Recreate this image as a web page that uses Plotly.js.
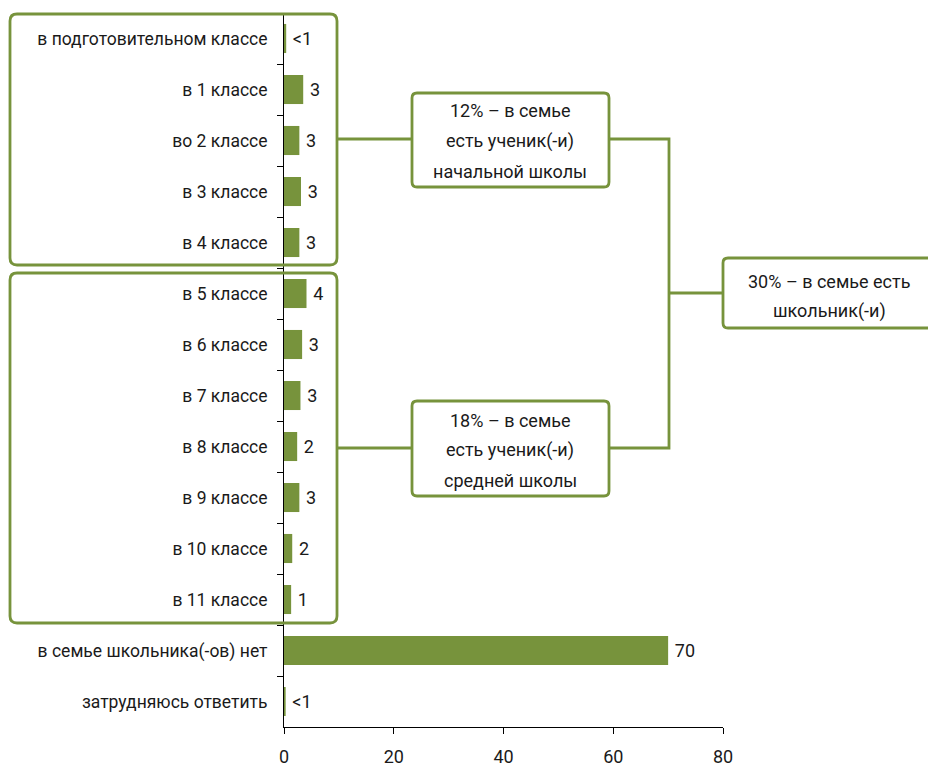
<!DOCTYPE html>
<html>
<head>
<meta charset="utf-8">
<script src="https://cdn.plot.ly/plotly-3.0.1.min.js"></script>
<style>html,body{margin:0;padding:0;background:#fff;}#chart{width:928px;height:769px;}</style>
</head>
<body>
<div id="chart"></div>
<script>
const categories = [
  'в подготовительном классе', 'в 1 классе', 'во 2 классе', 'в 3 классе', 'в 4 классе',
  'в 5 классе', 'в 6 классе', 'в 7 классе', 'в 8 классе', 'в 9 классе',
  'в 10 классе', 'в 11 классе', 'в семье школьника(-ов) нет', 'затрудняюсь ответить'
];
const values = [0.4, 3.5, 2.8, 3.1, 2.8, 4.1, 3.3, 3.0, 2.4, 2.8, 1.5, 1.3, 70, 0.3];
const valueLabels = ['<1', '3', '3', '3', '3', '4', '3', '3', '2', '3', '2', '1', '70', '<1'];
const xTicks = [0, 20, 40, 60, 80];
const calloutPrimary = ['12% – в семье', 'есть ученик(-и)', 'начальной школы'];
const calloutSecondary = ['18% – в семье', 'есть ученик(-и)', 'средней школы'];
const calloutTotal = ['30% – в семье есть', 'школьник(-и)'];

const W = 928, H = 769;
const M = {l: 284, r: 205, t: 13, b: 42};
const PW = W - M.l - M.r, PH = H - M.t - M.b;
const green = '#77933C';
const FONT = 'Roboto, "Open Sans", sans-serif';

function px(x) { return (x - M.l) / PW; }
function py(y) { return (H - M.b - y) / PH; }
function roundRect(x0, y0, x1, y1, r) {
  const P = (x, y) => px(x).toFixed(5) + ',' + py(y).toFixed(5);
  return 'M' + P(x0 + r, y0) + ' L' + P(x1 - r, y0) + ' Q' + P(x1, y0) + ' ' + P(x1, y0 + r) +
    ' L' + P(x1, y1 - r) + ' Q' + P(x1, y1) + ' ' + P(x1 - r, y1) +
    ' L' + P(x0 + r, y1) + ' Q' + P(x0, y1) + ' ' + P(x0, y1 - r) +
    ' L' + P(x0, y0 + r) + ' Q' + P(x0, y0) + ' ' + P(x0 + r, y0) + ' Z';
}
function linePath(pts) {
  return pts.map((p, i) => (i ? 'L' : 'M') + px(p[0]).toFixed(5) + ',' + py(p[1]).toFixed(5)).join(' ');
}
const boxLine = {color: green, width: 2.8};
const shapes = [
  {type: 'path', xref: 'paper', yref: 'paper', path: roundRect(10, 14, 337, 265, 7), line: boxLine},
  {type: 'path', xref: 'paper', yref: 'paper', path: roundRect(10, 273, 337, 623, 7), line: boxLine},
  {type: 'path', xref: 'paper', yref: 'paper', path: roundRect(412, 93, 609, 187, 5), line: boxLine, fillcolor: 'white'},
  {type: 'path', xref: 'paper', yref: 'paper', path: roundRect(412, 401, 609, 496, 5), line: boxLine, fillcolor: 'white'},
  {type: 'path', xref: 'paper', yref: 'paper', path: roundRect(723, 258, 940, 328, 5), line: boxLine, fillcolor: 'white'},
  {type: 'path', xref: 'paper', yref: 'paper', path: linePath([[337, 139], [412, 139]]), line: boxLine},
  {type: 'path', xref: 'paper', yref: 'paper', path: linePath([[337, 448], [412, 448]]), line: boxLine},
  {type: 'path', xref: 'paper', yref: 'paper', path: linePath([[609, 139], [669, 139], [669, 448], [609, 448]]), line: boxLine},
  {type: 'path', xref: 'paper', yref: 'paper', path: linePath([[669, 293], [723, 293]]), line: boxLine}
];

const annotations = [];
function addLines(lines, cx, ys) {
  lines.forEach((t, i) => annotations.push({
    xref: 'paper', yref: 'paper', x: px(cx), y: py(ys[i]), text: t, showarrow: false,
    xanchor: 'center', yanchor: 'middle', font: {family: FONT, size: 18, color: '#1a1a1a'}
  }));
}
addLines(calloutPrimary, 510, [111, 141, 171]);
addLines(calloutSecondary, 510, [420, 450, 480]);
addLines(calloutTotal, 829, [281, 311]);

const trace = {
  type: 'bar', orientation: 'h', y: categories, x: values,
  marker: {color: green, line: {width: 0}},
  text: valueLabels.map(s => '\u2009' + s), textposition: 'outside', cliponaxis: false,
  textfont: {family: FONT, size: 18, color: '#1a1a1a'},
  hoverinfo: 'skip'
};

const layout = {
  width: W, height: H, margin: M,
  paper_bgcolor: 'white', plot_bgcolor: 'white',
  showlegend: false, bargap: 0.43,
  font: {family: FONT, size: 17, color: '#1a1a1a'},
  xaxis: {
    range: [0, 80], tickvals: xTicks, ticktext: xTicks.map(String),
    showgrid: false, zeroline: false, showline: true, linecolor: '#000', linewidth: 1,
    ticks: 'outside', ticklen: 6, tickcolor: '#000', tickfont: {family: FONT, size: 18, color: '#1a1a1a'},
    ticklabelstandoff: 7, fixedrange: true
  },
  yaxis: {
    type: 'category', autorange: 'reversed', showgrid: false, zeroline: false,
    showline: true, linecolor: '#000', linewidth: 1,
    ticks: 'outside', tickson: 'boundaries', ticklen: 6, tickcolor: '#000',
    tickfont: {family: FONT, size: 17.5, color: '#1a1a1a'}, ticklabelstandoff: 12,
    fixedrange: true
  },
  shapes: shapes,
  annotations: annotations
};

Plotly.newPlot('chart', [trace], layout, {displayModeBar: false, staticPlot: true});
</script>
</body>
</html>
